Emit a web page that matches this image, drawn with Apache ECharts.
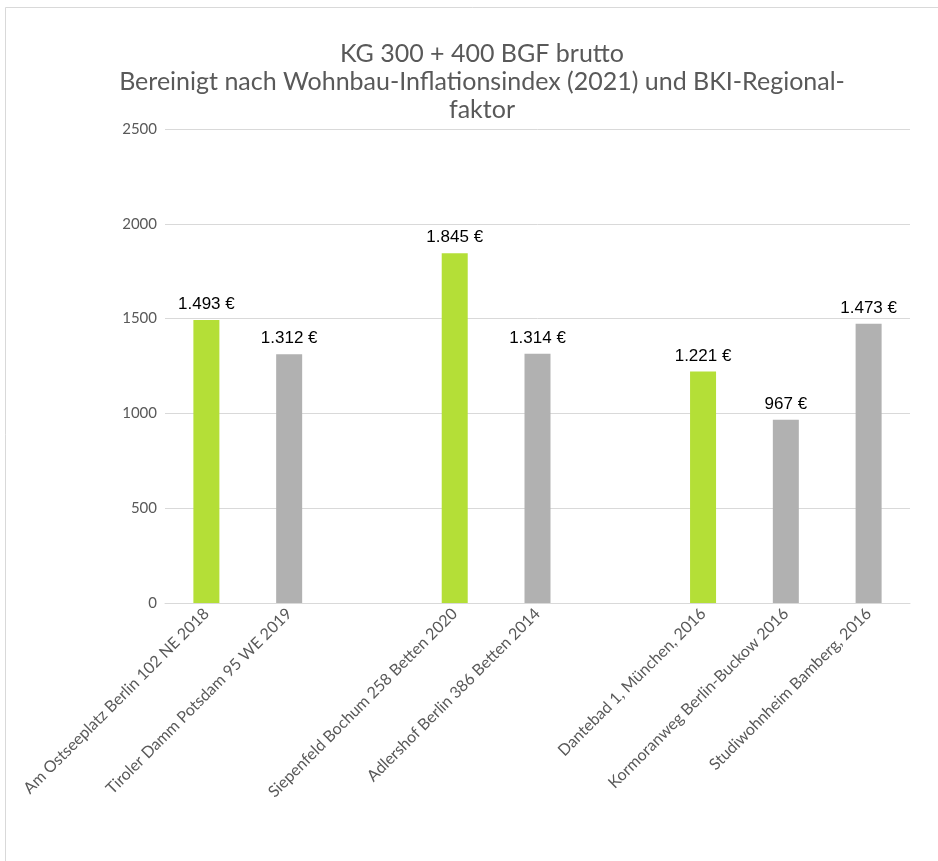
<!DOCTYPE html>
<html><head><meta charset="utf-8">
<script src="https://cdn.jsdelivr.net/npm/echarts@6/dist/echarts.min.js"></script>
<style>html,body{margin:0;padding:0;background:#fff}#c{width:938px;height:861px}</style>
</head><body><div id="c"></div>
<script>
const categories = ["Am Ostseeplatz Berlin 102 NE 2018","Tiroler Damm Potsdam 95 WE 2019","","Siepenfeld Bochum 258 Betten 2020","Adlershof Berlin 386 Betten 2014","","Dantebad 1, München, 2016","Kormoranweg Berlin-Buckow 2016","Studiwohnheim Bamberg, 2016"];
const values = [1493, 1312, null, 1845, 1314, null, 1221, 967, 1473];
const highlighted = [true, false, false, true, false, false, true, false, false];
const yTicks = [0, 500, 1000, 1500, 2000, 2500];

const GREEN = '#b4df37', GRAY = '#b1b1b1';
const chart = echarts.init(document.getElementById('c'), null, {renderer:'canvas'});
chart.setOption({
  animation:false,
  backgroundColor:'#fff',
  graphic:[{type:'rect',shape:{x:5.5,y:7.5,width:960,height:900},style:{fill:'none',stroke:'#d9d9d9',lineWidth:1},silent:true}],
  title:{
    text:'KG 300 + 400 BGF brutto\nBereinigt nach Wohnbau-Inflationsindex (2021) und BKI-Regional-\nfaktor',
    left:477, textAlign:'center', top:35,
    textStyle:{fontFamily:'Lato, "Open Sans", sans-serif', fontSize:25, fontWeight:'normal', color:'#595959', lineHeight:28}
  },
  grid:{left:165, right:28, top:129, bottom:258, containLabel:false},
  xAxis:{
    type:'category', data:categories,
    axisLine:{show:true, lineStyle:{color:'#d9d9d9'}},
    axisTick:{show:false},
    axisLabel:{interval:0, rotate:45, margin:8, color:'#595959', fontSize:16, fontFamily:'Lato, "Open Sans", sans-serif'}
  },
  yAxis:{
    type:'value', min:yTicks[0], max:yTicks[yTicks.length-1], interval:500,
    axisLine:{show:false}, axisTick:{show:false},
    splitLine:{lineStyle:{color:'#d9d9d9'}},
    axisLabel:{color:'#595959', fontSize:15, margin:8, fontFamily:'Lato, "Open Sans", sans-serif', formatter:v=>String(v)}
  },
  series:[{
    type:'bar', barWidth:26,
    data: values.map((v,i)=>({value:v, itemStyle:{color: highlighted[i]?GREEN:GRAY}})),
    label:{show:true, position:'top', distance:7, color:'#000', fontSize:17,
      fontFamily:'"Liberation Sans", Arial, sans-serif',
      formatter:p=>p.value==null?'':p.value.toLocaleString('de-DE')+' €'}
  }]
});
</script></body></html>
